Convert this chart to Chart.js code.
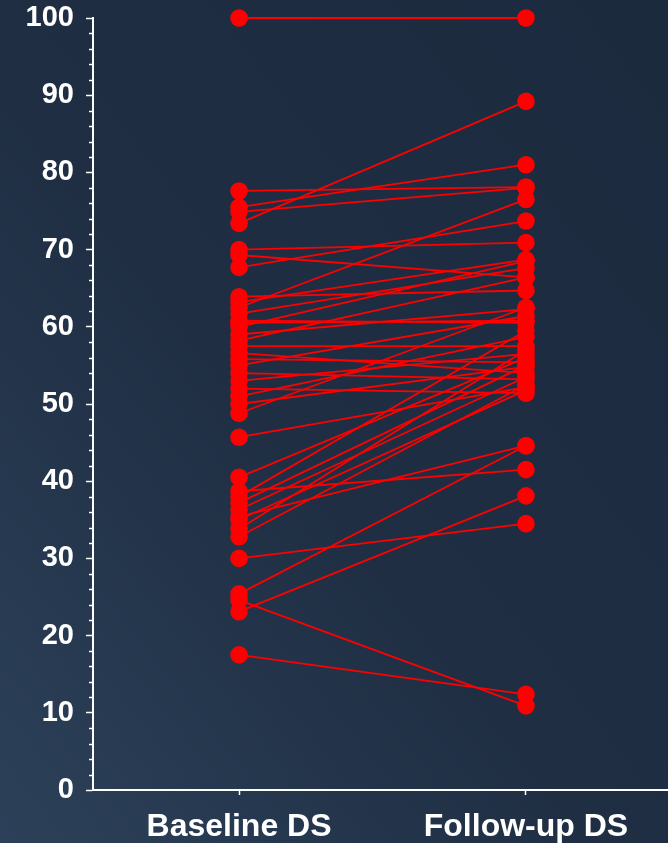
<!DOCTYPE html>
<html>
<head>
<meta charset="utf-8">
<script src="https://cdn.jsdelivr.net/npm/chart.js@4.4.0/dist/chart.umd.min.js"></script>
<style>
  html, body { margin: 0; padding: 0; width: 668px; height: 843px; overflow: hidden; }
  body { background: linear-gradient(to top right, #2c4159 0%, #1f2e43 45%, #1c2a3e 100%); }
  #c { display: block; }
</style>
</head>
<body>
<canvas id="c" width="668" height="843"></canvas>
<script>
// Paired DS scores: each index is one subject, measured at baseline and at follow-up
const categories = ['Baseline DS', 'Follow-up DS'];
const baselineDS = [100, 77.6, 75.5, 74.9, 73.4, 70.0, 69.3, 67.7, 63.9, 63.2,
                    62.5, 61.7, 60.8, 60.5, 60.0, 59.0, 58.2, 57.5, 56.6, 55.8,
                    55.0, 54.0, 53.0, 52.0, 51.0, 50.0, 48.8, 45.7, 40.5, 38.7,
                    38.0, 37.2, 36.3, 35.4, 35.0, 33.8, 32.8, 30.0, 25.4, 24.6,
                    23.1, 17.5];
const followUpDS = [100, 78.1, 81.0, 78.0, 89.2, 70.9, 66.4, 73.7, 64.7, 68.7,
                    76.5, 67.6, 60.5, 60.8, 68.5, 62.3, 66.4, 57.5, 54.0, 55.4,
                    61.4, 53.2, 56.5, 51.4, 58.7, 54.8, 62.5, 52.2, 56.0, 41.5,
                    59.5, 55.0, 53.5, 44.6, 51.8, 57.0, 52.5, 34.5, 44.6, 10.9,
                    38.1, 12.4];
const yMin = 0, yMax = 100, yMajorStep = 10, yMinorStep = 2;

const RED = '#ff0000';
const WHITE = '#ffffff';
const FONT = 'Liberation Sans, Arial, Helvetica, sans-serif';

// x positions 0 and 1 are the two time points
const datasets = baselineDS.map((b, i) => ({
  data: [{ x: 0, y: b }, { x: 1, y: followUpDS[i] }],
  borderColor: RED,
  backgroundColor: RED,
  borderWidth: 1.8,
  pointRadius: 8.8,
  pointBorderWidth: 0,
  pointBackgroundColor: RED,
  tension: 0,
  clip: false
}));

// short minor ticks on the value axis between the labelled ones
const minorTicks = {
  id: 'minorTicks',
  afterDraw(chart) {
    const ys = chart.scales.y;
    const ctx = chart.ctx;
    const x0 = chart.chartArea.left;
    ctx.save();
    ctx.strokeStyle = WHITE;
    ctx.lineWidth = 1.5;
    for (let v = yMin + yMinorStep; v < yMax; v += yMinorStep) {
      if (v % yMajorStep === 0) continue;
      const py = Math.round(ys.getPixelForValue(v)) + 0.5;
      ctx.beginPath();
      ctx.moveTo(x0 - 4, py);
      ctx.lineTo(x0, py);
      ctx.stroke();
    }
    ctx.restore();
  }
};

new Chart(document.getElementById('c'), {
  type: 'line',
  data: { datasets },
  options: {
    responsive: false,
    animation: false,
    layout: { autoPadding: false, padding: { top: 18, left: 0, right: 0, bottom: 0 } },
    plugins: { legend: { display: false }, tooltip: { enabled: false } },
    scales: {
      x: {
        type: 'linear',
        min: -0.509,
        max: 1.495,
        afterBuildTicks(s) { s.ticks = categories.map((_, i) => ({ value: i })); },
        grid: { display: true, drawOnChartArea: false, drawTicks: true,
                tickLength: 5, tickColor: WHITE, tickWidth: 1.5, color: WHITE },
        border: { display: true, color: WHITE, width: 2 },
        ticks: { color: WHITE, padding: 13, autoSkip: false, maxRotation: 0,
                 callback: (v) => categories[v],
                 font: { family: FONT, size: 32, weight: 'bold' } },
        afterFit(s) { s.height = 53; s.paddingLeft = 0; s.paddingRight = 0; }
      },
      y: {
        min: yMin,
        max: yMax,
        ticks: { stepSize: yMajorStep, color: WHITE, padding: 12,
                 font: { family: FONT, size: 29, weight: 'bold' } },
        grid: { display: true, drawOnChartArea: false, drawTicks: true,
                tickLength: 7, tickColor: WHITE, tickWidth: 1.5 },
        border: { display: true, color: WHITE, width: 2 },
        afterFit(s) { s.width = 93; s.paddingTop = 0; s.paddingBottom = 0; }
      }
    }
  },
  plugins: [minorTicks]
});
</script>
</body>
</html>
